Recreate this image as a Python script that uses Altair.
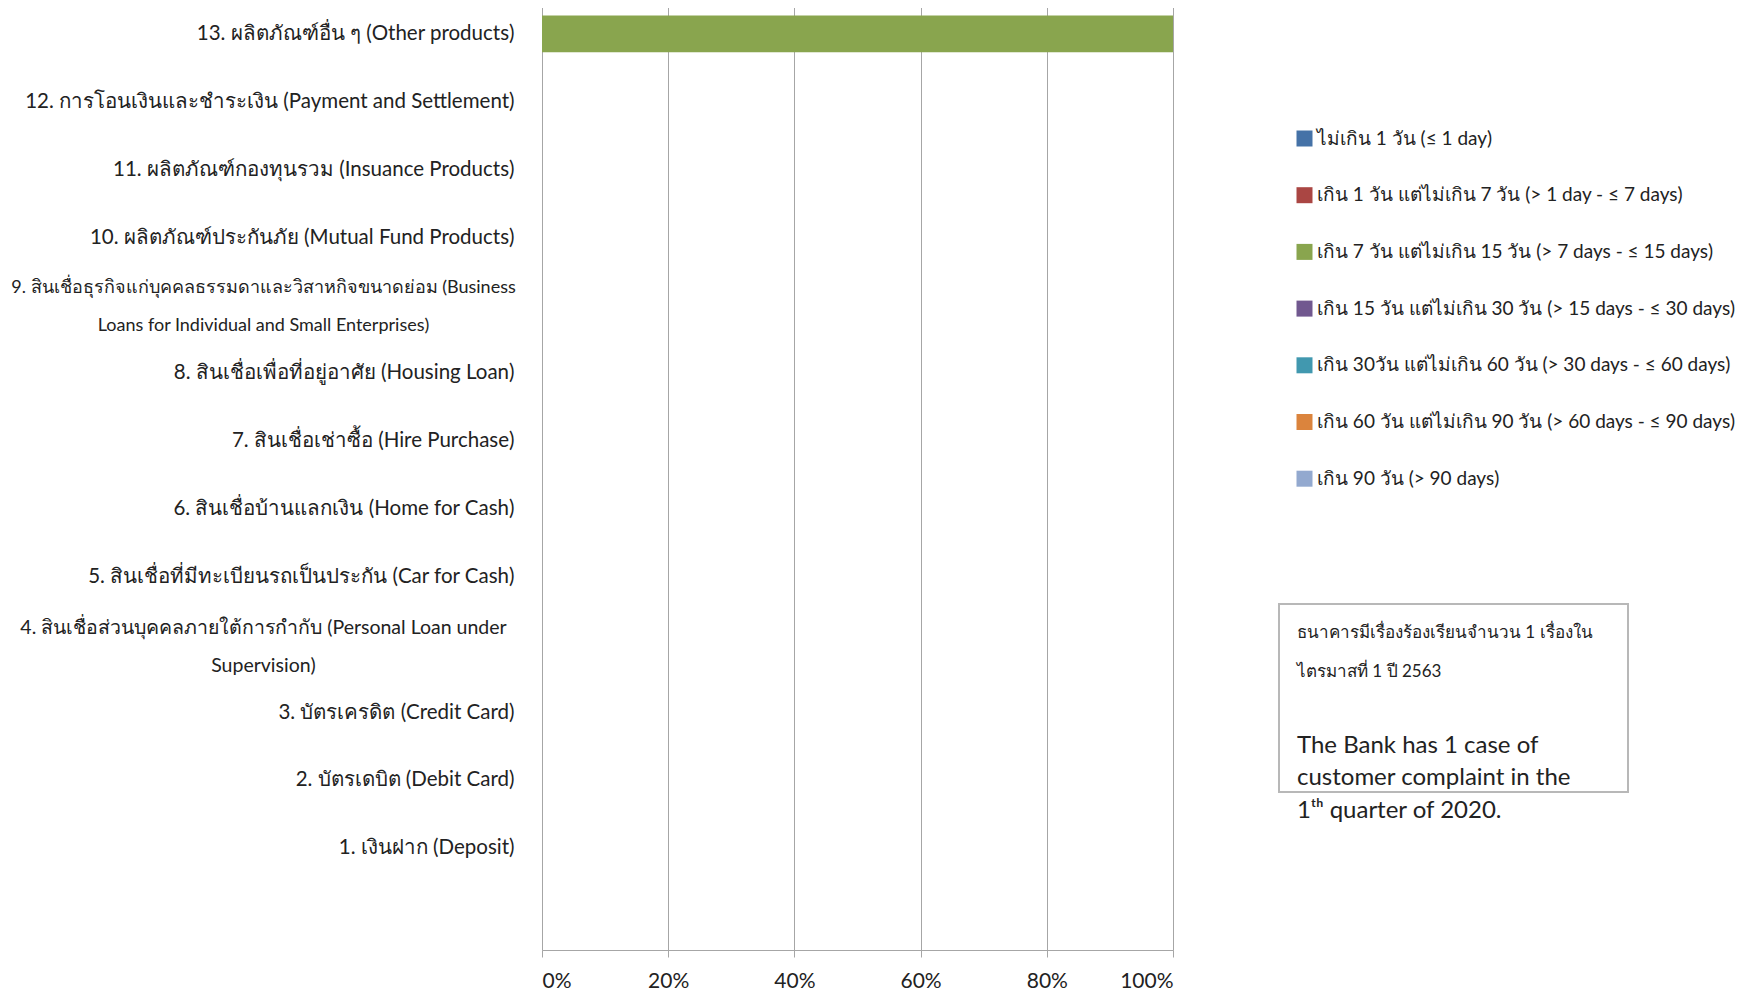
import altair as alt
import pandas as pd

# Product categories, top to bottom (last one is the empty row under "Deposit")
categories = [
    "13. ผลิตภัณฑ์อื่น ๆ (Other products)",
    "12. การโอนเงินและชำระเงิน (Payment and Settlement)",
    "11. ผลิตภัณฑ์กองทุนรวม (Insuance Products)",
    "10. ผลิตภัณฑ์ประกันภัย (Mutual Fund Products)",
    "9. สินเชื่อธุรกิจแก่บุคคลธรรมดาและวิสาหกิจขนาดย่อม (Business\nLoans for Individual and Small Enterprises)",
    "8. สินเชื่อเพื่อที่อยู่อาศัย (Housing Loan)",
    "7. สินเชื่อเช่าซื้อ (Hire Purchase)",
    "6. สินเชื่อบ้านแลกเงิน (Home for Cash)",
    "5. สินเชื่อที่มีทะเบียนรถเป็นประกัน (Car for Cash)",
    "4. สินเชื่อส่วนบุคคลภายใต้การกำกับ (Personal Loan under\nSupervision)",
    "3. บัตรเครดิต (Credit Card)",
    "2. บัตรเดบิต (Debit Card)",
    "1. เงินฝาก (Deposit)",
    " ",
]

# Complaint-handling periods (legend)
periods = [
    "ไม่เกิน 1 วัน (≤ 1 day)",
    "เกิน 1 วัน แต่ไม่เกิน 7 วัน (> 1 day - ≤ 7 days)",
    "เกิน 7 วัน แต่ไม่เกิน 15 วัน (> 7 days - ≤ 15 days)",
    "เกิน 15 วัน แต่ไม่เกิน 30 วัน (> 15 days - ≤ 30 days)",
    "เกิน 30วัน แต่ไม่เกิน 60 วัน (> 30 days - ≤ 60 days)",
    "เกิน 60 วัน แต่ไม่เกิน 90 วัน (> 60 days - ≤ 90 days)",
    "เกิน 90 วัน (> 90 days)",
]
period_colors = ["#4572A7", "#AA4643", "#89A54E", "#71588F", "#4198AF", "#DB843D", "#93A9CF"]

# Share of complaints per category (categories 13 ... 1), one list per period
share_le_1_day = [0, 0, 0, 0, 0, 0, 0, 0, 0, 0, 0, 0, 0]
share_1_7_days = [0, 0, 0, 0, 0, 0, 0, 0, 0, 0, 0, 0, 0]
share_7_15_days = [1.0, 0, 0, 0, 0, 0, 0, 0, 0, 0, 0, 0, 0]
share_15_30_days = [0, 0, 0, 0, 0, 0, 0, 0, 0, 0, 0, 0, 0]
share_30_60_days = [0, 0, 0, 0, 0, 0, 0, 0, 0, 0, 0, 0, 0]
share_60_90_days = [0, 0, 0, 0, 0, 0, 0, 0, 0, 0, 0, 0, 0]
share_gt_90_days = [0, 0, 0, 0, 0, 0, 0, 0, 0, 0, 0, 0, 0]
series = [share_le_1_day, share_1_7_days, share_7_15_days, share_15_30_days,
          share_30_60_days, share_60_90_days, share_gt_90_days]

x_ticks = [0, 0.2, 0.4, 0.6, 0.8, 1.0]

note_lines = [
    "ธนาคารมีเรื่องร้องเรียนจำนวน 1 เรื่องใน",
    "ไตรมาสที่ 1 ปี 2563",
    "The Bank has 1 case of",
    "customer complaint in the",
    "1ᵗʰ quarter of 2020.",
]

rows = []
for k, (p, vals) in enumerate(zip(periods, series)):
    for c, v in zip(categories[:13], vals):
        rows.append({"category": c, "period": p, "share": v, "order": k})
df = pd.DataFrame(rows)

GRID = "#a6a6a6"
FONT = "Lato"
MULTI = "indexof(datum.value, '\\n') >= 0"
LONG = "indexof(datum.value, 'Business') >= 0"

bars = alt.Chart(df).mark_bar().encode(
    x=alt.X(
        "share:Q",
        stack="zero",
        scale=alt.Scale(domain=[0, 1], nice=False),
        axis=alt.Axis(
            title=None, format="%", values=x_ticks, grid=True, gridColor=GRID,
            domainColor=GRID, tickColor=GRID, tickSize=7, labelPadding=13,
            labelFontSize=21, labelColor="#222222", labelFont=FONT,
        ),
    ),
    y=alt.Y(
        "category:N",
        scale=alt.Scale(domain=categories, paddingInner=0.46, paddingOuter=0.23),
        axis=alt.Axis(
            title=None, domain=False, ticks=False, grid=False,
            labelExpr="split(datum.label, '\\n')", labelLimit=0,
            labelPadding={"condition": {"test": MULTI, "value": 279}, "value": 28},
            labelAlign={"condition": {"test": MULTI, "value": "center"}, "value": "right"},
            labelOffset={"condition": {"test": MULTI, "value": -17}, "value": 0},
            labelFontSize={"condition": [
                {"test": LONG, "value": 18},
                {"test": MULTI, "value": 19.5},
            ], "value": 20.5},
            labelColor="#222222", labelFont=FONT, labelLineHeight=38,
        ),
    ),
    color=alt.Color(
        "period:N",
        scale=alt.Scale(domain=periods, range=period_colors),
        legend=alt.Legend(
            title=None, orient="none", legendX=753, legendY=129,
            symbolType="square", symbolSize=256, symbolStrokeWidth=0,
            labelFontSize=19, labelFont=FONT, labelColor="#222222",
            labelLimit=0, labelOffset=3, rowPadding=36.7,
        ),
    ),
    order=alt.Order("order:Q"),
)

dummy = pd.DataFrame({"t": [""]})
box = alt.Chart(dummy).mark_rect(fill="white", stroke="#b8b8b8", strokeWidth=2).encode(
    x=alt.value(737), x2=alt.value(1086), y=alt.value(604), y2=alt.value(792)
)

note_y = [633, 672, 746, 778, 811]
note_size = [17, 17, 24, 24, 24]
texts = []
for line, yy, sz in zip(note_lines, note_y, note_size):
    texts.append(
        alt.Chart(pd.DataFrame({"t": [line]})).mark_text(
            align="left", baseline="middle", fontSize=sz, font=FONT, color="#222222"
        ).encode(text="t:N", x=alt.value(755), y=alt.value(yy))
    )

chart = alt.layer(bars, box, *texts).properties(
    width=631, height=950,
    padding={"left": 534, "top": -8, "right": 583, "bottom": 40},
    autosize=alt.AutoSizeParams(type="none"),
).configure_view(strokeWidth=0).configure(background="white")

chart.save("out.html", embed_options={"renderer": "svg", "actions": False})
